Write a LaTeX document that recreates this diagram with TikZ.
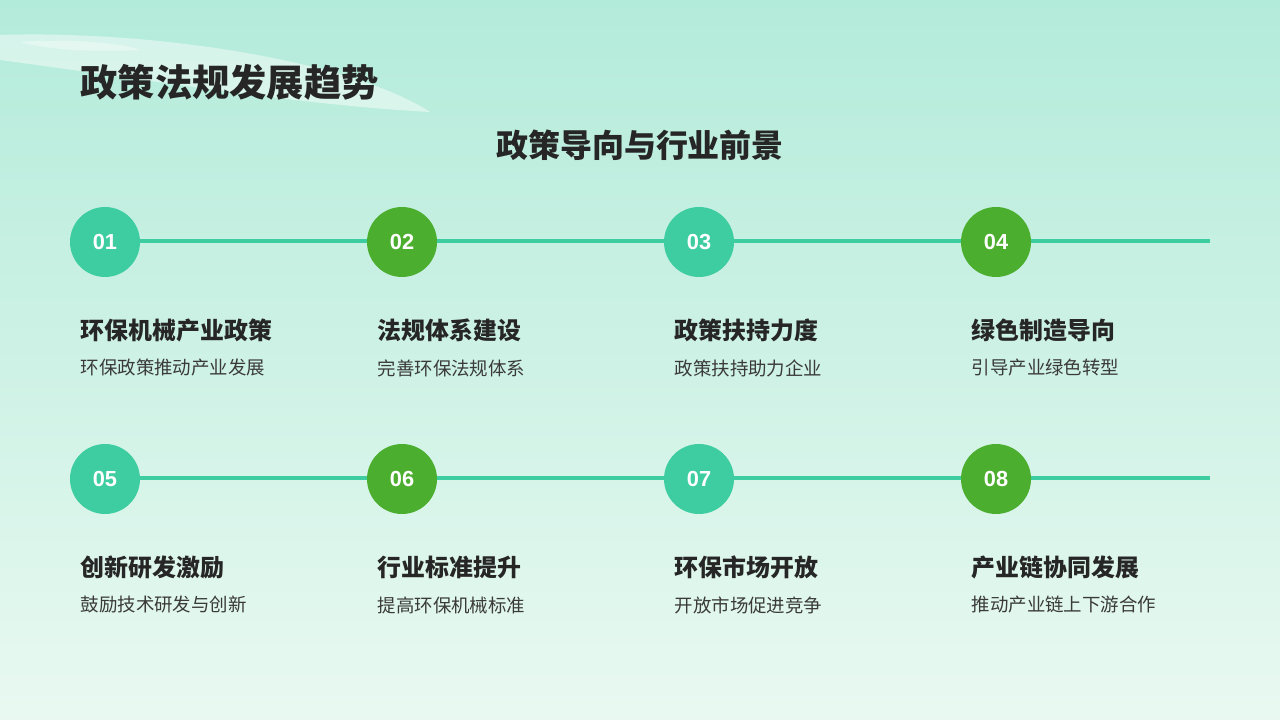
\documentclass[tikz,border=0pt]{standalone}
\usepackage{fontspec}
\setmainfont{Noto Sans CJK SC}
\newfontfamily\numfont{Liberation Sans}
\usetikzlibrary{positioning}
\definecolor{bgtop}{HTML}{B3EBDA}
\definecolor{bgbot}{HTML}{E9F9F1}
\definecolor{teal}{HTML}{3DCDA0}
\definecolor{leaf}{HTML}{4CAE2E}
\definecolor{ink}{HTML}{262626}
\definecolor{subink}{HTML}{3A3A3A}
\tikzset{
  num/.style={circle,minimum size=0.7cm,inner sep=0pt,text=white,font=\numfont\fontsize{6.2}{7}\selectfont\bfseries},
  head/.style={anchor=west,text=ink,inner sep=0pt,font=\fontsize{6.8}{7}\selectfont\bfseries},
  desc/.style={anchor=west,text=subink,inner sep=0pt,font=\fontsize{5.25}{6}\selectfont},
}
\begin{document}
\begin{tikzpicture}
    % background
    \shade[top color=bgtop,bottom color=bgbot] (0,0) rectangle (12.8,-7.2);
    \useasboundingbox (0,0) rectangle (12.8,-7.2);
    % brush decoration
    \fill[white,opacity=0.45] (0,-0.35) .. controls (1.5,-0.3) and (3.5,-0.6) .. (4.3,-1.12) .. controls (3,-1.05) and (1.5,-0.8) .. (0,-0.6) -- cycle;
    \fill[white,opacity=0.35] (0.2,-0.42) .. controls (0.8,-0.38) and (1.3,-0.45) .. (1.4,-0.5) .. controls (0.9,-0.52) and (0.5,-0.5) .. (0.2,-0.42) -- cycle;
    % titles
    \node (title)[anchor=west,text=ink,inner sep=0pt,font=\fontsize{10.6}{11}\selectfont\bfseries] at (0.8,-0.82) {政策法规发展趋势};
    \node (sub)[text=ink,inner sep=0pt,font=\fontsize{9.1}{10}\selectfont\bfseries] at (6.4,-1.45) {政策导向与行业前景};
    % timelines
    \draw[teal,line width=1.2pt] (1.05,-2.41) -- (12.1,-2.41);
    \draw[teal,line width=1.2pt] (1.05,-4.78) -- (12.1,-4.78);
    % items
    \foreach \i/\x/\y/\c/\h/\d in {
      01/1.05/-2.42/teal/环保机械产业政策/环保政策推动产业发展,
      02/4.02/-2.42/leaf/法规体系建设/完善环保法规体系,
      03/6.99/-2.42/teal/政策扶持力度/政策扶持助力企业,
      04/9.96/-2.42/leaf/绿色制造导向/引导产业绿色转型,
      05/1.05/-4.79/teal/创新研发激励/鼓励技术研发与创新,
      06/4.02/-4.79/leaf/行业标准提升/提高环保机械标准,
      07/6.99/-4.79/teal/环保市场开放/开放市场促进竞争,
      08/9.96/-4.79/leaf/产业链协同发展/推动产业链上下游合作}{
      \node (n\i)[num,fill=\c] at (\x,\y) {\i};
      \node (h\i)[head] at (\x-0.25,\y-0.88) {\h};
      \node (d\i)[desc] at (\x-0.25,\y-1.26) {\d};
    }
\end{tikzpicture}
\end{document}
